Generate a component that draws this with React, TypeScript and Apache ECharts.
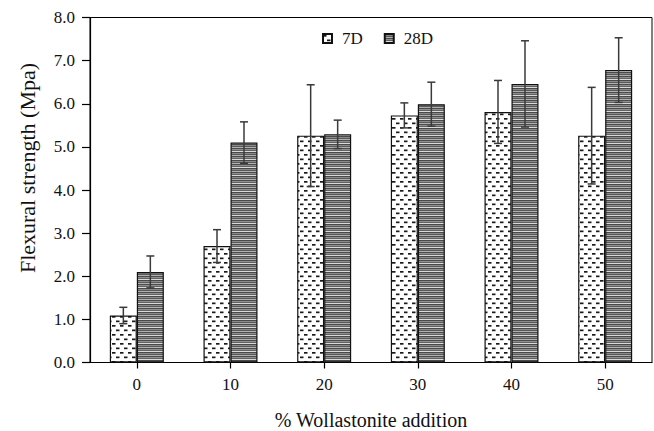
import React, { useEffect, useRef } from "react";
import * as echarts from "echarts";

const categories = [0, 10, 20, 30, 40, 50];
const xTicks = [0, 10, 20, 30, 40, 50];
const yTicks = [0, 1, 2, 3, 4, 5, 6, 7, 8];
const series7DName = "7D";
const series28DName = "28D";
const values7D = [1.09, 2.7, 5.26, 5.73, 5.81, 5.26];
const errors7D = [0.19, 0.38, 1.18, 0.29, 0.73, 1.12];
const values28D = [2.1, 5.1, 5.29, 5.99, 6.46, 6.78];
const errors28D = [0.37, 0.48, 0.33, 0.51, 1.0, 0.75];
const xTitle = "% Wollastonite addition";
const yTitle = "Flexural strength (Mpa)";

const FONT = "Liberation Serif";
const BAR_W = 27;

function makeDashPattern(): HTMLCanvasElement {
  const c = document.createElement("canvas");
  c.width = 8;
  c.height = 9;
  const ctx = c.getContext("2d")!;
  ctx.fillStyle = "#ffffff";
  ctx.fillRect(0, 0, 8, 9);
  ctx.fillStyle = "#1a1a1a";
  ctx.fillRect(0, 1, 3.5, 1.7);
  ctx.fillRect(4, 5.5, 3.5, 1.7);
  return c;
}

function makeStripePattern(): HTMLCanvasElement {
  const rows = ["#4a4a4a", "#888888", "#5a5a5a", "#b0b0b0", "#4c4c4c", "#8f8f8f", "#626262", "#dadada"];
  const c = document.createElement("canvas");
  c.width = 4;
  c.height = rows.length;
  const ctx = c.getContext("2d")!;
  rows.forEach((col, i) => {
    ctx.fillStyle = col;
    ctx.fillRect(0, i, 4, 1);
  });
  return c;
}

function errorSeries(name: string, vals: number[], errs: number[], offset: number) {
  return {
    type: "custom",
    name: name + "-err",
    z: 10,
    silent: true,
    data: categories.map((c, i) => [c, vals[i] - errs[i], vals[i] + errs[i]]),
    renderItem: (params: any, api: any) => {
      const hi = api.coord([api.value(0), api.value(2)]);
      const lo = api.coord([api.value(0), api.value(1)]);
      const x = hi[0] + offset;
      const cap = 4;
      const style = { stroke: "#3a3a3a", lineWidth: 1.5 };
      return {
        type: "group",
        children: [
          { type: "line", shape: { x1: x, y1: hi[1], x2: x, y2: lo[1] }, style },
          { type: "line", shape: { x1: x - cap, y1: hi[1], x2: x + cap, y2: hi[1] }, style },
          { type: "line", shape: { x1: x - cap, y1: lo[1], x2: x + cap, y2: lo[1] }, style },
        ],
      };
    },
  };
}

export default function App() {
  const ref = useRef<HTMLDivElement>(null);
  useEffect(() => {
    if (!ref.current) return;
    const chart = echarts.init(ref.current, undefined, { renderer: "svg" });
    const dash = { image: makeDashPattern(), repeat: "repeat" };
    const stripe = { image: makeStripePattern(), repeat: "repeat" };
    const option: any = {
      animation: false,
      backgroundColor: "#ffffff",
      textStyle: { fontFamily: FONT },
      grid: {
        left: 90,
        right: 2,
        top: 17.5,
        bottom: 68.5,
        containLabel: false,
        outerBoundsMode: "none",
        show: true,
        borderColor: "#000",
        borderWidth: 1,
        backgroundColor: "transparent",
      },
      legend: {
        left: 317,
        top: 25,
        itemWidth: 9,
        itemHeight: 9,
        itemGap: 21,
        icon: "rect",
        data: [series7DName, series28DName],
        textStyle: { fontFamily: FONT, fontSize: 17, color: "#111", padding: [0, 0, 0, 5] },
      },
      xAxis: {
        type: "value",
        min: -5,
        max: 55,
        splitLine: { show: false },
        axisLine: { show: true, onZero: false, lineStyle: { color: "#000", width: 1.2 } },
        axisTick: { show: true, length: 6, customValues: xTicks, lineStyle: { color: "#000", width: 1.2 } },
        axisLabel: {
          customValues: xTicks,
          margin: 13,
          fontFamily: FONT,
          fontSize: 17,
          color: "#111",
        },
        name: xTitle,
        nameLocation: "middle",
        nameGap: 47,
        nameTextStyle: { fontFamily: FONT, fontSize: 20, color: "#111" },
      },
      yAxis: {
        type: "value",
        min: 0,
        max: 8,
        interval: 1,
        splitLine: { show: false },
        axisLine: { show: true, onZero: false, lineStyle: { color: "#000", width: 1.2 } },
        axisTick: { show: true, length: 8, lineStyle: { color: "#000", width: 1.2 } },
        axisLabel: {
          margin: 15,
          fontFamily: FONT,
          fontSize: 17,
          color: "#111",
          formatter: (v: number) => (yTicks.includes(v) ? v.toFixed(1) : ""),
        },
      },
      graphic: [
        {
          type: "text",
          x: 27,
          y: 168,
          rotation: Math.PI / 2,
          style: {
            text: yTitle,
            align: "center",
            verticalAlign: "middle",
            font: `22px ${FONT}`,
            fill: "#111",
          },
        },
      ],
      series: [
        {
          type: "bar",
          name: series7DName,
          barWidth: BAR_W,
          barGap: "0%",
          data: categories.map((c, i) => [c, values7D[i]]),
          itemStyle: { color: dash, borderColor: "#111", borderWidth: 1.2 },
        },
        {
          type: "bar",
          name: series28DName,
          barWidth: BAR_W,
          barGap: "0%",
          data: categories.map((c, i) => [c, values28D[i]]),
          itemStyle: { color: stripe, borderColor: "#111", borderWidth: 1.2 },
        },
        errorSeries(series7DName, values7D, errors7D, -BAR_W / 2),
        errorSeries(series28DName, values28D, errors28D, BAR_W / 2),
      ],
    };
    chart.setOption(option);
    return () => chart.dispose();
  }, []);
  return (
    <div
      ref={ref}
      style={{ position: "fixed", left: 0, top: 0, width: 654, height: 431, background: "#fff" }}
    />
  );
}
